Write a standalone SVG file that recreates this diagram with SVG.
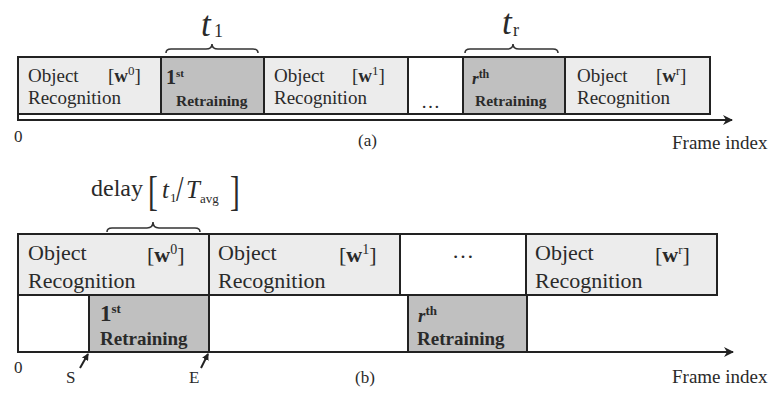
<svg xmlns="http://www.w3.org/2000/svg" width="772" height="393" viewBox="0 0 772 393">
<style>
.obj{fill:#ececec;stroke:#222;stroke-width:2}
.ret{fill:#c0c0c0;stroke:#222;stroke-width:2}
.emp{fill:#fff;stroke:#222;stroke-width:2}
.ln{fill:none;stroke:#222;stroke-width:2}
.br{fill:none;stroke:#333;stroke-width:1.6}
text{font-family:"Liberation Serif","Times New Roman",serif;fill:#2a2a2a}
.ta{font-size:19px}
.tb{font-size:22px}
.b{font-weight:bold}
.i{font-style:italic}
</style>
<defs>
<marker id="ah" markerWidth="10" markerHeight="10" refX="9" refY="5" orient="auto" markerUnits="userSpaceOnUse">
<path d="M0,0 L10,5 L0,10 L3,5 Z" fill="#222"/>
</marker>
<marker id="sh" markerWidth="7" markerHeight="7" refX="6" refY="3.5" orient="auto" markerUnits="userSpaceOnUse">
<path d="M0,0 L7,3.5 L0,7 Z" fill="#222"/>
</marker>
</defs>

<!-- (a) -->
<g id="a-obj0">
<rect class="obj" x="18" y="57" width="143" height="57"/>
<text class="ta" x="28" y="82">Object</text>
<text class="ta" x="28" y="104">Recognition</text>
<text class="ta" x="108" y="82" font-size="20">[<tspan class="b">w</tspan><tspan font-size="13" dy="-7">0</tspan><tspan dy="7">]</tspan></text>
</g>
<g id="a-ret1">
<rect class="ret" x="161" y="57" width="103" height="57"/>
<text class="b" x="166" y="84" font-size="20">1<tspan font-size="11" dy="-7">st</tspan></text>
<text class="b" x="176" y="106" font-size="15.5">Retraining</text>
</g>
<g id="a-obj1">
<rect class="obj" x="264" y="57" width="144" height="57"/>
<text class="ta" x="274" y="82">Object</text>
<text class="ta" x="274" y="104">Recognition</text>
<text class="ta" x="352" y="82" font-size="20">[<tspan class="b">w</tspan><tspan font-size="13" dy="-7">1</tspan><tspan dy="7">]</tspan></text>
</g>
<g id="a-dots">
<rect class="emp" x="408" y="57" width="55" height="57"/>
<text class="ta" x="421" y="108">…</text>
</g>
<g id="a-retr">
<rect class="ret" x="463" y="57" width="102" height="57"/>
<text class="b" x="472" y="84" font-size="17"><tspan class="i">r</tspan><tspan font-size="12" dy="-6">th</tspan></text>
<text class="b" x="475" y="106" font-size="15.5">Retraining</text>
</g>
<g id="a-objr">
<rect class="obj" x="565" y="57" width="145" height="57"/>
<text class="ta" x="577" y="82">Object</text>
<text class="ta" x="577" y="104">Recognition</text>
<text class="ta" x="656" y="82" font-size="20">[<tspan class="b">w</tspan><tspan font-size="12" dy="-7">r</tspan><tspan dy="7">]</tspan></text>
</g>
<g id="a-t1">
<path class="br" d="M166,53 Q166,49 171,49 L206,49 Q212,49 212,44 Q212,49 218,49 L253,49 Q258,49 258,53"/>
<text class="i" x="201" y="36" font-size="35">t</text>
<text x="214" y="37" font-size="18">1</text>
</g>
<g id="a-tr">
<path class="br" d="M465,53 Q465,49 470,49 L507,49 Q513,49 513,44 Q513,49 519,49 L553,49 Q558,49 558,53"/>
<text class="i" x="502" y="34" font-size="35">t</text>
<text x="513" y="36" font-size="18">r</text>
</g>
<g id="a-labels">
<text x="14" y="142" font-size="17">0</text>
<text x="358" y="146" font-size="17">(a)</text>
<text x="672" y="149" font-size="19">Frame index</text>
</g>

<!-- (b) -->
<g id="b-obj0">
<rect class="obj" x="18" y="234" width="191" height="61"/>
<text class="tb" x="28" y="260">Object</text>
<text class="tb" x="28" y="288">Recognition</text>
<text class="tb" x="147" y="262" font-size="21">[<tspan class="b">w</tspan><tspan font-size="14" dy="-8">0</tspan><tspan dy="8">]</tspan></text>
</g>
<g id="b-obj1">
<rect class="obj" x="209" y="234" width="191" height="61"/>
<text class="tb" x="218" y="260">Object</text>
<text class="tb" x="218" y="288">Recognition</text>
<text class="tb" x="339" y="262" font-size="21">[<tspan class="b">w</tspan><tspan font-size="14" dy="-8">1</tspan><tspan dy="8">]</tspan></text>
</g>
<g id="b-dots">
<rect class="emp" x="400" y="234" width="126" height="61"/>
<text class="tb" x="452" y="258">…</text>
</g>
<g id="b-objr">
<rect class="obj" x="526" y="234" width="191" height="61"/>
<text class="tb" x="535" y="260">Object</text>
<text class="tb" x="535" y="288">Recognition</text>
<text class="tb" x="655" y="262" font-size="21">[<tspan class="b">w</tspan><tspan font-size="13" dy="-8">r</tspan><tspan dy="8">]</tspan></text>
</g>
<g id="b-ret1">
<rect class="ret" x="89" y="295" width="120" height="57"/>
<text class="b" x="100" y="321" font-size="23">1<tspan font-size="13" dy="-8">st</tspan></text>
<text class="b" x="100" y="345" font-size="19">Retraining</text>
</g>
<g id="b-retr">
<rect class="ret" x="408" y="295" width="119" height="57"/>
<text class="b" x="418" y="322" font-size="19"><tspan class="i">r</tspan><tspan font-size="13" dy="-7">th</tspan></text>
<text class="b" x="417" y="345" font-size="19">Retraining</text>
</g>
<g id="b-delay">
<path class="br" d="M107,232 Q107,228 112,228 L147,228 Q153,228 153,222 Q153,228 159,228 L195,228 Q200,228 200,232"/>
<text x="91" y="196" font-size="24">delay</text>
<text x="148" y="205" font-size="42" transform="translate(148 0) scale(0.7 1) translate(-148 0)">[</text>
<text class="i" x="162" y="198" font-size="25">t</text>
<text x="170" y="202" font-size="13">1</text>
<text x="176" y="201" font-size="36" transform="translate(176 0) scale(0.75 1) translate(-176 0)">/</text>
<text class="i" x="186" y="198" font-size="25">T</text>
<text x="200" y="203" font-size="13">avg</text>
<text x="230" y="205" font-size="42" transform="translate(230 0) scale(0.7 1) translate(-230 0)">]</text>
</g>
<g id="b-labels">
<text x="14" y="373" font-size="17">0</text>
<text x="66" y="383" font-size="17">S</text>
<text x="189" y="383" font-size="17">E</text>
<text x="355" y="383" font-size="17">(b)</text>
<text x="672" y="383" font-size="19">Frame index</text>
</g>

<g id="connectors">
<path class="ln" d="M18,57 L18,120 L732,120" marker-end="url(#ah)"/>
<path class="ln" d="M18,295 L18,352 L733,352" marker-end="url(#ah)"/>
<line class="ln" x1="80" y1="368" x2="88" y2="354" stroke-width="1.6" marker-end="url(#sh)"/>
<line class="ln" x1="201" y1="368" x2="208" y2="354" stroke-width="1.6" marker-end="url(#sh)"/>
</g>
</svg>
